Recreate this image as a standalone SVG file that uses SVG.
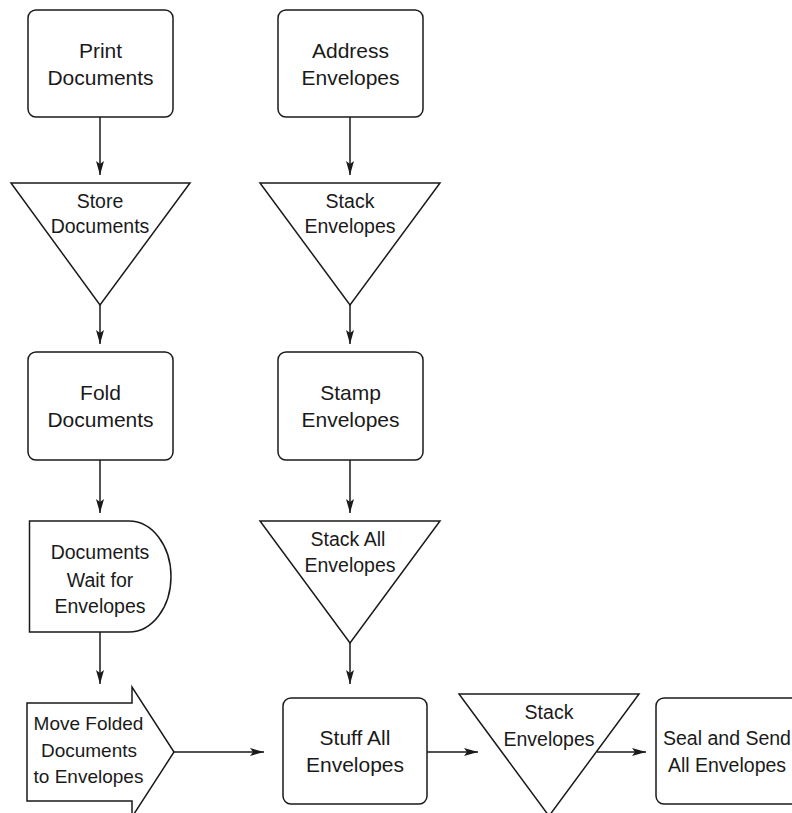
<svg xmlns="http://www.w3.org/2000/svg" width="792" height="813" viewBox="0 0 792 813">
  <style>
    .shape { fill: #ffffff; stroke: #1a1a1a; stroke-width: 1.5; }
    .edge { fill: none; stroke: #1a1a1a; stroke-width: 1.5; marker-end: url(#head); }
    text { font-family: "Liberation Sans", Arial, sans-serif; fill: #1a1a1a; text-anchor: middle; }
    .lg { font-size: 21px; }
    .md { font-size: 19.5px; }
    .sm { font-size: 19px; }
  </style>
  <defs>
    <marker id="head" markerUnits="userSpaceOnUse" markerWidth="15" markerHeight="9" refX="14" refY="4" orient="auto">
      <path d="M0,0 L14,4 L0,8 L3,4 Z" fill="#1a1a1a"/>
    </marker>
  </defs>
  <rect width="792" height="813" fill="#ffffff"/>

  <!-- connectors -->
  <g id="connectors">
    <line class="edge" x1="100" y1="117" x2="100" y2="175"/>
    <line class="edge" x1="350" y1="117" x2="350" y2="175"/>
    <line class="edge" x1="100" y1="305" x2="100" y2="344"/>
    <line class="edge" x1="350" y1="305" x2="350" y2="344"/>
    <line class="edge" x1="100" y1="460" x2="100" y2="513"/>
    <line class="edge" x1="350" y1="460" x2="350" y2="513"/>
    <line class="edge" x1="100" y1="632" x2="100" y2="684"/>
    <line class="edge" x1="350" y1="643" x2="350" y2="684"/>
    <line class="edge" x1="174" y1="752" x2="264" y2="752"/>
    <line class="edge" x1="427" y1="752" x2="478" y2="752"/>
    <line class="edge" x1="597" y1="752" x2="646" y2="752"/>
  </g>

  <g id="print-documents">
    <rect class="shape" x="28" y="10" width="145" height="107" rx="8"/>
    <text class="lg" x="100.5" y="58">Print</text>
    <text class="lg" x="100.5" y="85">Documents</text>
  </g>

  <g id="address-envelopes">
    <rect class="shape" x="278" y="10" width="145" height="107" rx="8"/>
    <text class="lg" x="350.5" y="58">Address</text>
    <text class="lg" x="350.5" y="85">Envelopes</text>
  </g>

  <g id="store-documents">
    <polygon class="shape" points="11,183 190,183 100,305"/>
    <text class="md" x="100" y="208">Store</text>
    <text class="md" x="100" y="233">Documents</text>
  </g>

  <g id="stack-envelopes">
    <polygon class="shape" points="260,183 440,183 350,305"/>
    <text class="md" x="350" y="208">Stack</text>
    <text class="md" x="350" y="233">Envelopes</text>
  </g>

  <g id="fold-documents">
    <rect class="shape" x="28" y="352" width="145" height="108" rx="8"/>
    <text class="lg" x="100.5" y="400">Fold</text>
    <text class="lg" x="100.5" y="427">Documents</text>
  </g>

  <g id="stamp-envelopes">
    <rect class="shape" x="278" y="352" width="145" height="108" rx="8"/>
    <text class="lg" x="350.5" y="400">Stamp</text>
    <text class="lg" x="350.5" y="427">Envelopes</text>
  </g>

  <g id="documents-wait">
    <path class="shape" d="M29.5,521 H129 A42,55.5 0 0 1 129,632 H29.5 Z"/>
    <text class="md" x="100" y="559">Documents</text>
    <text class="md" x="100" y="587">Wait for</text>
    <text class="md" x="100" y="613">Envelopes</text>
  </g>

  <g id="stack-all-envelopes">
    <polygon class="shape" points="260,521 440,521 350,643"/>
    <text class="md" x="348" y="546">Stack All</text>
    <text class="md" x="350" y="572">Envelopes</text>
  </g>

  <g id="move-folded-documents">
    <path class="shape" d="M27,703 H132 V687 L174,752 L132,817 V801 H27 Z"/>
    <text class="sm" x="88.5" y="730">Move Folded</text>
    <text class="sm" x="89" y="757">Documents</text>
    <text class="sm" x="88.5" y="783">to Envelopes</text>
  </g>

  <g id="stuff-all-envelopes">
    <rect class="shape" x="283" y="698" width="144" height="106" rx="8"/>
    <text class="lg" x="355" y="745">Stuff All</text>
    <text class="lg" x="355" y="772">Envelopes</text>
  </g>

  <g id="stack-envelopes-final">
    <polygon class="shape" points="459,694 639,694 549,816"/>
    <text class="md" x="549" y="719">Stack</text>
    <text class="md" x="549" y="746">Envelopes</text>
  </g>

  <g id="seal-and-send">
    <rect class="shape" x="656" y="698" width="145" height="106" rx="8"/>
    <text class="md" x="727" y="745">Seal and Send</text>
    <text class="md" x="727" y="772">All Envelopes</text>
  </g>
</svg>
